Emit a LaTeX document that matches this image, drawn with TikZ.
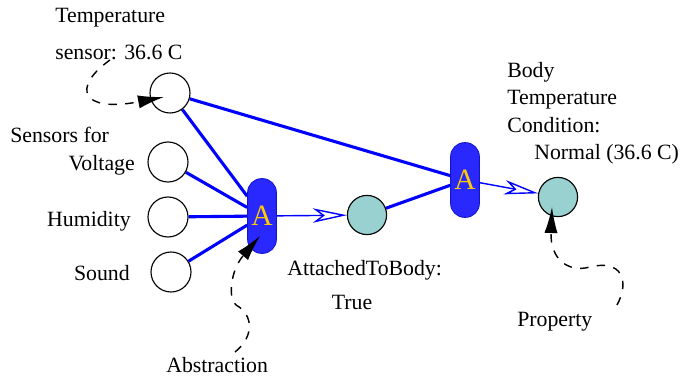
\documentclass[tikz,border=0pt]{standalone}
\usepackage{fontspec}
\setmainfont{Liberation Serif}
\usepackage{tikz}
\usetikzlibrary{arrows.meta, positioning, backgrounds}
\definecolor{linkblue}{RGB}{0,0,255}
\definecolor{aggfill}{RGB}{40,40,255}
\definecolor{aggborder}{RGB}{20,20,200}
\definecolor{aggtext}{RGB}{255,204,0}
\definecolor{propteal}{RGB}{153,209,209}

\begin{document}
\begin{tikzpicture}[
    sensor/.style={circle, draw, line width=0.8pt, minimum size=1cm, inner sep=0pt},
    context/.style={sensor, fill=propteal, minimum size=0.98cm},
    aggr/.style={draw=aggborder, fill=aggfill, line width=0.6pt, rounded corners=0.35cm,
        minimum width=0.72cm, minimum height=1.87cm, inner sep=0pt, text=aggtext,
        font=\fontsize{21}{21}\selectfont},
    txt/.style={font=\fontsize{15.5}{18}\selectfont, inner sep=0pt},
    wire/.style={linkblue, line width=2.2pt},
    flow/.style={linkblue, line width=1pt,
        -{Stealth[open, length=0.85cm, width=0.36cm, inset=0.24cm]}},
    note/.style={dash pattern=on 6pt off 6pt, line width=1pt,
        -{Latex[length=0.65cm, width=0.33cm]}}
]
    \useasboundingbox (0,0) rectangle (17.2,9.375);

    % sensori
    \node[sensor] (temp) at (4.25,7.05) {};
    \node[sensor] (volt) at (4.2,5.325) {};
    \node[sensor] (humid) at (4.2,3.95) {};
    \node[sensor] (sound) at (4.275,2.575) {};

    % aggregatori
    \node[aggr] (agg1) at (6.55,3.975) {A};
    \node[aggr] (agg2) at (11.625,4.875) {A};

    % contesti
    \node[context] (attached) at (9.175,4.0) {};
    \node[context] (bodycond) at (13.95,4.45) {};

    % collegamenti
    \begin{scope}[on background layer]
        \draw[wire] (temp) -- (agg2);
        \foreach \s in {temp, volt, humid, sound}
            \draw[wire] (\s) -- (agg1);
        \draw[wire] (attached) -- (agg2);
        \draw[flow] (agg1) -- (attached);
        \draw[flow] (agg2) -- (bodycond);
    \end{scope}

    % etichette
    \node[txt, anchor=base west] (tempname) at (1.375,8.8) {Temperature};
    \node[txt, anchor=base west] (tempval) at (1.375,7.875) {sensor: 36.6 C};
    \node[txt, anchor=base west] (sensorsfor) at (0.25,5.8) {Sensors for};
    \node[txt, anchor=base east] (voltname) at (3.375,5.125) {Voltage};
    \node[txt, anchor=base east] (humidname) at (3.275,3.725) {Humidity};
    \node[txt, anchor=base east] (soundname) at (3.25,2.375) {Sound};
    \node[txt, anchor=base west] (attname) at (7.175,2.5) {AttachedToBody:};
    \node[txt, anchor=base] (attval) at (8.8,1.65) {True};
    \node[txt, anchor=base west] (bodyname) at (12.675,7.425) {Body};
    \node[txt, anchor=base west] (bodytemp) at (12.675,6.75) {Temperature};
    \node[txt, anchor=base west] (bodycondname) at (12.675,6.05) {Condition:};
    \node[txt, anchor=base west] (bodyval) at (13.35,5.375) {Normal (36.6 C)};
    \node[txt, anchor=base west] (abstr) at (4.15,0.075) {Abstraction};
    \node[txt, anchor=base west] (prop) at (12.925,1.225) {Property};

    % note tratteggiate
    \coordinate (tempfrom) at (2.75,7.875);
    \coordinate (temptip) at (4.1,6.95);
    \coordinate (abstrfrom) at (5.875,0.575);
    \coordinate (abstrtip) at (6.5,3.475);
    \coordinate (propfrom) at (15.425,1.75);
    \coordinate (proptip) at (13.8,4.2);

    \draw[note] (tempfrom) .. controls (1.8,7.2) and (2.0,6.55) .. (temptip);
    \draw[note] (abstrfrom) .. controls (6.35,0.95) and (6.35,1.5) .. (5.9,1.75)
        .. controls (5.7,1.9) and (5.75,2.6) .. (abstrtip);
    \draw[note] (propfrom) .. controls (15.75,2.35) and (15.55,2.9) .. (14.75,2.7)
        .. controls (14.2,2.55) and (13.75,2.9) .. (proptip);
\end{tikzpicture}
\end{document}
